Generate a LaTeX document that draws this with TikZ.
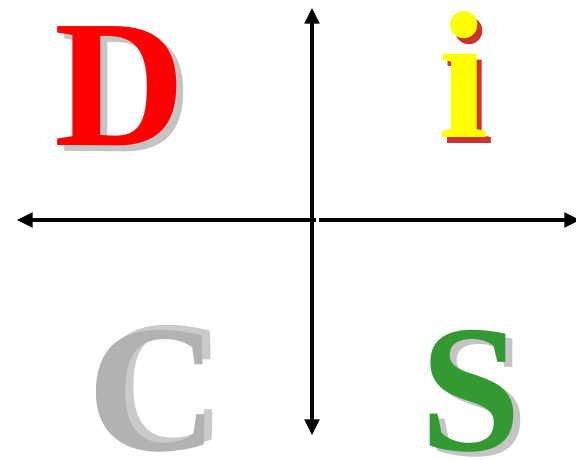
\documentclass[tikz,border=0pt]{standalone}
\usepackage{fontspec}
\newfontfamily\discfont{Liberation Serif}[BoldFont={Liberation Serif Bold}]
\usetikzlibrary{arrows.meta,positioning}

\definecolor{discred}{HTML}{FF0000}
\definecolor{discyellow}{HTML}{FFFF00}
\definecolor{discredshade}{HTML}{CC3333}
\definecolor{discgray}{HTML}{B2B2B2}
\definecolor{disclightgray}{HTML}{CACACA}
\definecolor{discgreen}{HTML}{339933}
\definecolor{discshade}{HTML}{C4C4C4}

\begin{document}
\begin{tikzpicture}[x=0.03cm,y=-0.03cm,
  letter/.style={inner sep=0pt,anchor=base,font=\discfont\fontsize{155}{155}\selectfont\bfseries},
  axis/.style={line width=2.6pt,-{Triangle[length=0.47cm,width=0.44cm]}}]
  \useasboundingbox (0,0) rectangle (576,460);
  % letters with their shadows
  \node[letter,text=discshade] (Dshadow) at (127,152) {D};
  \node[letter,text=discred] (D) at (120,146) {D};
  \node[letter,text=discredshade] (ishadow) at (469,144) {i};
  \node[letter,text=discyellow] (i) at (464,138) {i};
  \node[letter,text=disclightgray] (Cshadow) at (161,446) {C};
  \node[letter,text=discgray] (C) at (153,451) {C};
  \node[letter,text=discshade] (Sshadow) at (478,456) {S};
  \node[letter,text=discgreen] (S) at (471,451) {S};
  % axes
  \coordinate (centre) at (312,220);
  \coordinate (left) at (17,220);
  \coordinate (right) at (580,220);
  \coordinate (top) at (312,8);
  \coordinate (bottom) at (312,435);
  \draw[axis] (centre) ++(4,0) coordinate (cl) (cl) -- (left);
  \draw[axis] (centre) ++(7,0) coordinate (cr) (cr) -- (right);
  \draw[axis] (centre) -- (top);
  \draw[axis] (centre) -- (bottom);
\end{tikzpicture}
\end{document}
